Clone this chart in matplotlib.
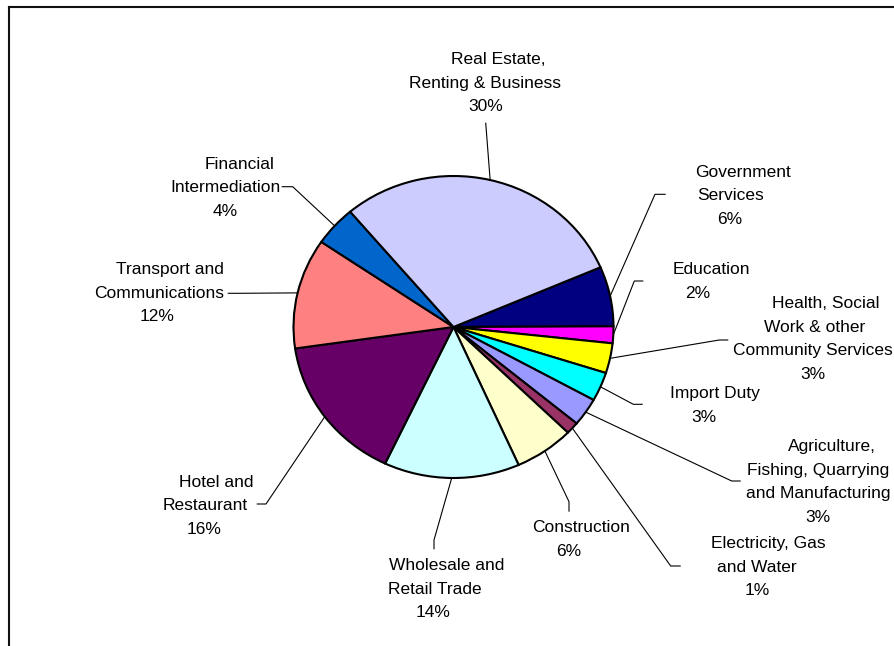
import numpy as np
import matplotlib.pyplot as plt

# sector shares (percent), drawn clockwise starting with Government Services
sectors = ["Government Services", "Education",
           "Health, Social Work & other Community Services", "Import Duty",
           "Agriculture, Fishing, Quarrying and Manufacturing",
           "Electricity, Gas and Water", "Construction",
           "Wholesale and Retail Trade", "Hotel and Restaurant",
           "Transport and Communications", "Financial Intermediation",
           "Real Estate, Renting & Business"]
shares = [6.4, 1.8, 3.2, 3.1, 3.0, 1.3, 6.0, 13.7, 15.7, 11.8, 4.3, 29.7]
label_lines = [["Government", "Services"], ["Education"],
               ["Health, Social", "Work & other", "Community Services"],
               ["Import Duty"],
               ["Agriculture,", "Fishing, Quarrying", "and Manufacturing"],
               ["Electricity, Gas", "and Water"], ["Construction"],
               ["Wholesale and", "Retail Trade"], ["Hotel and", "Restaurant"],
               ["Transport and", "Communications"],
               ["Financial", "Intermediation"],
               ["Real Estate,", "Renting & Business"]]
colors = ["#000080", "#FF00FF", "#FFFF00", "#00FFFF", "#9999FF", "#993366",
          "#FFFFCC", "#CCFFFF", "#660066", "#FF8080", "#0066CC", "#CCCCFF"]

# layout (pixels): pie centre / radii, label line x-centres, first line y
W, H = 894, 646
CX, CY, RX, RY = 453.5, 327, 160, 151
line_x = [[743, 731, 729.7], [711, 698], [826, 814.5, 812.7, 813],
          [714.5, 703.7], [832, 818.5, 818.7, 818], [768.5, 756.7, 757.5],
          [581.3, 568.3], [446.7, 435, 433.3], [216.7, 205, 203.7],
          [169.7, 159, 157], [239.5, 225, 225], [498, 485, 485.5]]
line_y0 = [170.7, 268.3, 302.3, 392.3, 445, 542.3, 526, 564.3, 480.7,
           268.3, 162.7, 58.3]
STEP = 23.5
# leader lines: elbow point and end point near the label
elbows = [(655, 194.3), (634.3, 281), (719.3, 340), (633.3, 404.3),
          (731.7, 481), (670.7, 566), (569, 501.7), (434, 540),
          (266, 504), (240, 293.3), (292.7, 186.7), (485.7, 122.7)]
ends = [(665.7, 194.3), (643.3, 281), (728.3, 340), (642.7, 404.3),
        (740.7, 481), (680.7, 566), (569, 511.7), (434, 549.3),
        (256.7, 504), (227.7, 293.3), (281.7, 186.7), (485.7, 122.7)]


def px(x, y):
    return (x - CX) / RX, (CY - y) / RY


fig = plt.figure(figsize=(W / 100, H / 100), dpi=100)
ax = fig.add_axes([0, 0, 1, 1])
wedges, _ = ax.pie(shares, colors=colors, startangle=23.3, counterclock=False,
                   wedgeprops=dict(edgecolor="black", linewidth=1.5))
ax.set_aspect("auto")
ax.set_xlim(-CX / RX, (W - CX) / RX)
ax.set_ylim(-(H - CY) / RY, CY / RY)
ax.axis("off")

for i, w in enumerate(wedges):
    mid = np.deg2rad((w.theta1 + w.theta2) / 2)
    ex, ey = px(*elbows[i])
    tx, ty = px(*ends[i])
    ax.plot([np.cos(mid), ex, tx], [np.sin(mid), ey, ty], color="black",
            lw=0.8, solid_capstyle="butt")
    lines = label_lines[i] + [f"{round(shares[i])}%"]
    for j, txt in enumerate(lines):
        ax.text(*px(line_x[i][j], line_y0[i] + j * STEP + 1.5), txt,
                ha="center", va="center", fontsize=12.5,
                family="Liberation Sans")

# chart area border (right and bottom edges fall outside the picture)
bx, by = px(9, 7)
ax.plot([bx, bx], [by, px(9, 700)[1]], color="#111111", lw=1.5, clip_on=False)
ax.plot([bx, px(950, 7)[0]], [by, by], color="#111111", lw=1.5, clip_on=False)

fig.savefig("out.png", dpi=100)
